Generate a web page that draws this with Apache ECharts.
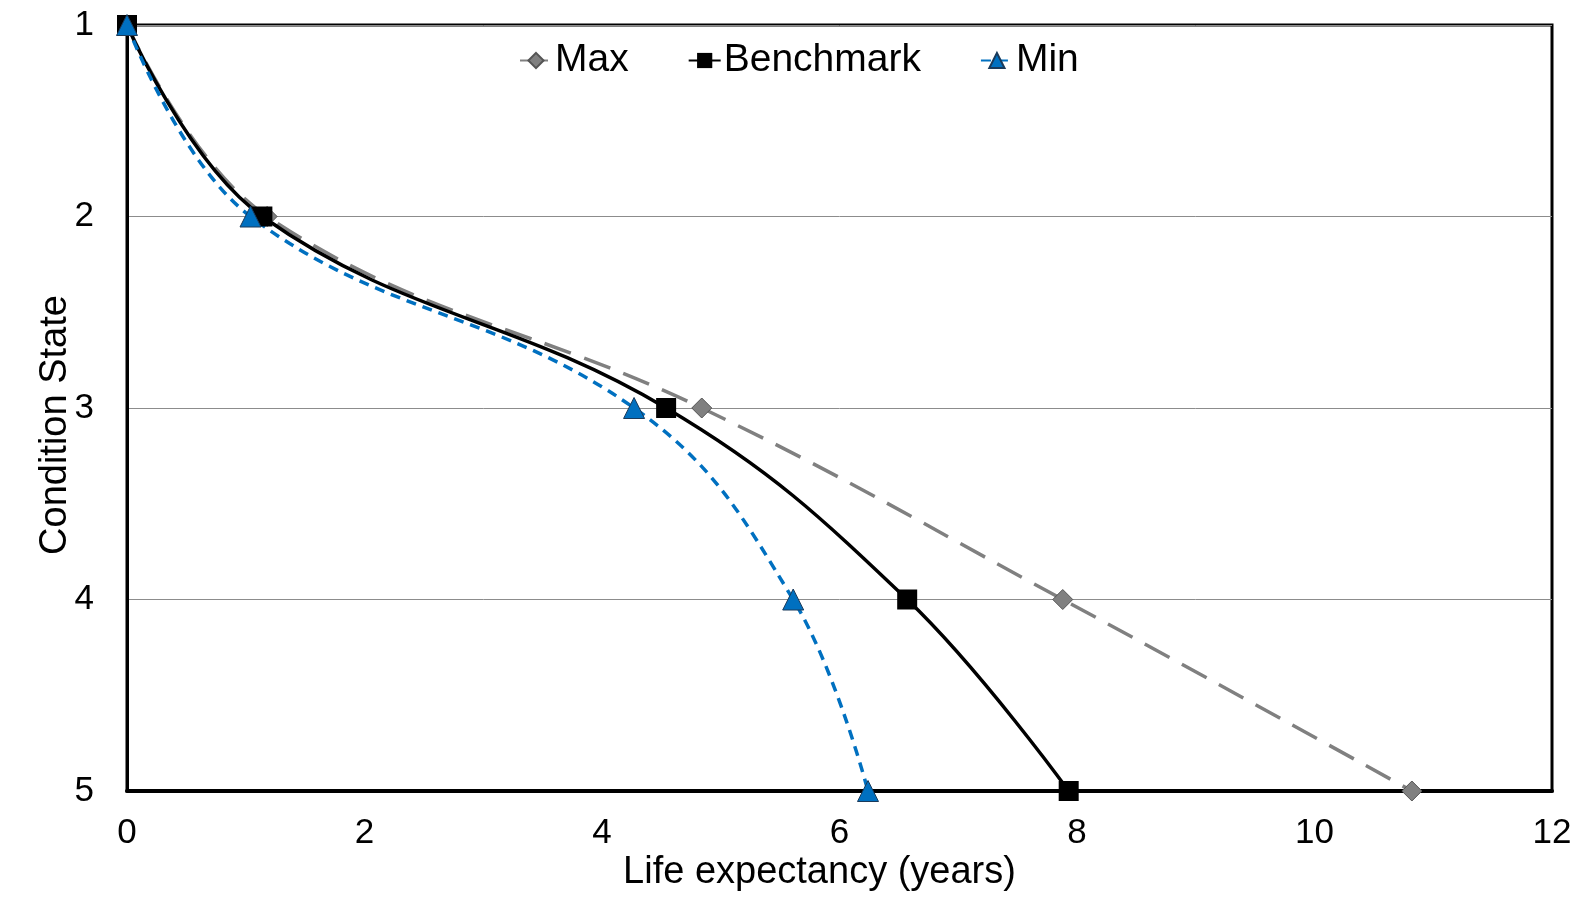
<!DOCTYPE html>
<html><head><meta charset="utf-8">
<script src="https://cdn.jsdelivr.net/npm/echarts@6/dist/echarts.min.js"></script>
<style>html,body{margin:0;padding:0;background:#fff}#c{width:1588px;height:904px}</style>
</head><body><div id="c"></div>
<script>
var conditionStates = [1, 2, 3, 4, 5];
var maxLife = [0, 1.18, 4.84, 7.88, 10.82];
var benchmarkLife = [0, 1.14, 4.54, 6.57, 7.93];
var minLife = [0, 1.04, 4.27, 5.61, 6.24];
var xTicks = [0, 2, 4, 6, 8, 10, 12];
var yTicks = [1, 2, 3, 4, 5];

function pairs(xs) { return xs.map(function (x, i) { return [x, conditionStates[i]]; }); }

var FONT = '"Liberation Sans", Arial, Helvetica, sans-serif';
var chart = echarts.init(document.getElementById('c'));
chart.setOption({
  animation: false,
  textStyle: { fontFamily: FONT, color: '#000' },
  grid: { left: 127, top: 25, right: 36, bottom: 113, show: true, borderColor: '#000', borderWidth: 3, backgroundColor: 'transparent' },
  legend: {
    top: 36, left: 514, itemGap: 59, itemWidth: 32, itemHeight: 19,
    textStyle: { fontSize: 39, color: '#000', fontFamily: FONT, padding: [0, 0, 0, -2] },
    data: ['Max', 'Benchmark', 'Min']
  },
  xAxis: {
    type: 'value', min: xTicks[0], max: xTicks[xTicks.length - 1], interval: 2,
    name: 'Life expectancy (years)', nameLocation: 'middle', nameGap: 63, nameMoveOverlap: false,
    nameTextStyle: { fontSize: 38, color: '#000', fontFamily: FONT, padding: [0, 40, 0, 0] },
    axisLine: { show: true, lineStyle: { color: '#000', width: 4 } },
    axisTick: { show: false },
    axisLabel: { fontSize: 35, color: '#000', margin: 25, fontFamily: FONT },
    splitLine: { show: false }
  },
  yAxis: {
    type: 'value', inverse: true, min: yTicks[0], max: yTicks[yTicks.length - 1], interval: 1,
    name: 'Condition State', nameLocation: 'middle', nameGap: 52, nameRotate: 90, nameMoveOverlap: false,
    nameTextStyle: { fontSize: 38, color: '#000', fontFamily: FONT, padding: [0, 34, 0, 0] },
    axisLine: { show: true, lineStyle: { color: '#000', width: 3 } },
    axisTick: { show: false },
    axisLabel: { fontSize: 35, color: '#000', margin: 33, fontFamily: FONT },
    splitLine: { show: true, lineStyle: { color: '#8c8c8c', width: 1 } }
  },
  series: [
    {
      name: 'Max', type: 'line', data: pairs(maxLife), smooth: 0.4,
      symbol: 'diamond', symbolSize: 20,
      lineStyle: { color: '#808080', width: 3.5, type: [28, 14] },
      itemStyle: { color: '#808080', borderColor: '#555', borderWidth: 1 }
    },
    {
      name: 'Benchmark', type: 'line', data: pairs(benchmarkLife), smooth: 0.4,
      symbol: 'rect', symbolSize: 20,
      lineStyle: { color: '#000', width: 3.5 },
      itemStyle: { color: '#000', borderColor: '#000', borderWidth: 0 }
    },
    {
      name: 'Min', type: 'line', data: pairs(minLife), smooth: 0.4,
      symbol: 'triangle', symbolSize: 21,
      lineStyle: { color: '#0070C0', width: 3.5, type: [10, 7] },
      itemStyle: { color: '#0070C0', borderColor: '#1a3a5a', borderWidth: 1 }
    }
  ]
});
</script></body></html>
